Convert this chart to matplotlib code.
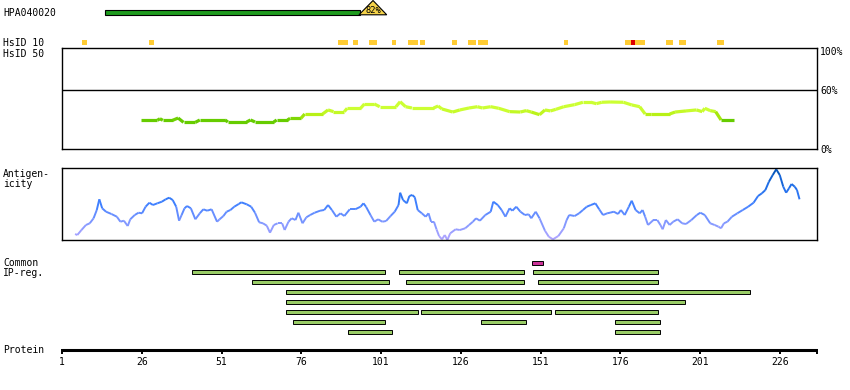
import matplotlib
matplotlib.use("Agg")
import matplotlib.pyplot as plt
from matplotlib.collections import LineCollection
from matplotlib.colors import LinearSegmentedColormap, Normalize
import numpy as np

W, H = 850, 390
PX0, PX_PER_RES = 62, 3.19   # residue 1 sits at x=62 px

# ---- data (residue positions) ----
antibody = "HPA040020"
hpa_start, hpa_end = 14.5, 94.4
hpa_identity = "82%"

hsid10_start = [7.3, 28.3, 87.5, 92.2, 97.2, 104.4, 109.5, 113.2, 123.3, 128.3,
                131.4, 158.4, 177.5, 180.6, 190.3, 194.4, 206.3]
hsid10_end = [8.8, 29.8, 90.7, 93.8, 99.7, 105.7, 112.6, 114.8, 124.8, 130.8,
              134.5, 159.6, 179.4, 183.8, 192.5, 196.6, 208.5]
hsid10_red_start = [179.4]
hsid10_red_end = [180.6]

id_pos = [25.8, 30.9, 31.7, 32.6, 35.7, 37.4, 39.1, 42.8, 44.2, 52.1, 53.0, 58.9,
          60.1, 61.5, 67.4, 68.3, 71.7, 72.5, 75.9, 77.1, 82.7, 84.4, 86.1, 89.5,
          90.4, 94.6, 95.8, 98.9, 100.6, 105.7, 107.0, 108.7, 110.7, 117.5, 118.9,
          120.1, 123.5, 125.7, 128.6, 131.2, 132.8, 135.4, 137.9, 141.3, 144.7,
          146.5, 148.1, 150.7, 152.4, 154.1, 155.8, 158.3, 161.7, 164.3, 166.8,
          168.5, 170.2, 172.8, 177.0, 179.6, 182.1, 183.8, 185.5, 191.5, 193.2,
          196.6, 199.9, 201.7, 202.5, 204.2, 205.9, 207.6, 211.8]
id_pct = [29.2, 29.2, 30.8, 29.2, 29.2, 31.5, 27.1, 27.1, 29.5, 29.5, 27.5, 27.5,
          29.5, 27.5, 27.5, 29.5, 29.5, 31.2, 31.2, 35.6, 35.6, 39.7, 38.0, 38.0,
          41.4, 41.4, 45.8, 45.8, 43.0, 43.0, 48.1, 43.0, 41.7, 41.7, 43.7,
          40.7, 37.6, 39.7, 41.7, 43.0, 41.7, 43.0, 41.4, 38.0, 37.6,
          39.0, 37.6, 34.9, 39.7, 38.7, 40.3, 43.0, 45.1, 47.5, 47.5,
          46.1, 47.5, 47.8, 47.5, 44.8, 43.0, 35.6, 35.6, 35.6, 37.6,
          38.7, 39.7, 38.0, 41.4, 39.0, 38.0, 29.5, 29.5]

ag_pos = [5.1, 5.8, 7.1, 8.5, 9.7, 10.9, 11.9, 12.7, 13.6, 14.8, 16.5, 18.2, 19.3,
          20.4, 21.6, 22.4, 23.8, 25.0, 26.1, 27.2, 28.4, 29.5, 30.9, 32.3, 33.5,
          34.6, 35.7, 36.8, 37.7, 38.5, 39.4, 40.2, 41.4, 42.8, 44.2, 45.3, 46.5,
          47.9, 49.6, 50.4, 51.6, 52.6, 53.8, 55.0, 56.4, 57.2, 58.9, 60.3, 61.5,
          62.8, 64.0, 65.2, 66.2, 67.4, 68.6, 70.0, 70.8, 72.0, 73.0, 74.2, 75.1,
          76.4, 77.6, 78.8, 80.2, 81.9, 83.2, 84.4, 85.6, 87.0, 88.3, 89.5, 91.2,
          92.9, 94.6, 95.5, 96.3, 97.7, 98.9, 100.1, 101.4, 102.6, 104.0, 105.3,
          106.5, 107.0, 107.9, 109.1, 109.9, 110.8, 111.6, 112.5, 113.8, 115.0,
          115.9, 116.7, 117.6, 118.4, 119.2, 120.1, 121.0, 121.8, 122.7, 124.4,
          125.7, 127.4, 128.6, 129.8, 130.8, 132.0, 133.7, 135.4, 136.2, 137.6,
          138.8, 140.0, 141.3, 142.2, 143.4, 144.7, 146.1, 147.3, 148.1, 149.5,
          150.7, 152.4, 153.6, 154.9, 156.6, 158.3, 159.2, 160.0, 161.7, 163.1,
          164.3, 165.5, 166.8, 168.2, 169.4, 170.6, 171.9, 172.8, 174.0, 175.3,
          176.2, 177.4, 178.7, 179.6, 180.8, 182.1, 183.0, 183.8, 184.7, 186.4,
          187.6, 188.6, 189.3, 190.3, 191.5, 192.6, 194.0, 195.4, 196.6, 198.3,
          200.0, 201.1, 202.5, 204.2, 205.6, 206.8, 207.6, 208.5, 209.6, 211.0,
          212.7, 214.4, 216.1, 217.8, 219.2, 220.4, 221.5, 222.6, 223.8, 224.9,
          226.0, 227.1, 228.0, 228.9, 229.7, 230.7, 231.4, 232.2]
ag_val = [6.0, 5.0, 10.0, 15.0, 16.7, 21.7, 30.0, 40.7, 31.7, 28.3, 26.0, 23.3, 18.3,
          19.3, 14.0, 20.7, 25.0, 27.3, 26.7, 33.3, 37.3, 35.0, 36.7, 38.3, 40.7,
          42.3, 40.0, 33.3, 19.3, 25.0, 31.7, 34.0, 31.7, 20.7, 26.7, 30.7, 29.3,
          30.7, 18.3, 20.7, 24.0, 28.3, 30.0, 33.3, 36.0, 37.7, 35.7, 33.3, 27.3,
          17.7, 16.7, 14.3, 7.3, 15.0, 16.7, 16.7, 10.0, 18.3, 21.7, 20.0, 27.3,
          16.7, 22.7, 25.0, 27.3, 29.3, 30.0, 35.0, 30.0, 23.3, 26.7, 24.0, 30.7,
          30.7, 33.3, 36.7, 33.3, 25.0, 18.3, 20.7, 18.3, 19.0, 24.0, 28.3,
          35.0, 47.3, 40.0, 36.7, 44.0, 45.0, 42.7, 30.0, 26.7, 23.3,
          26.7, 18.3, 18.3, 10.7, 4.0, 0.7, 5.0, 0.0, 6.7, 10.7,
          10.0, 11.7, 15.0, 18.3, 21.7, 19.3, 25.0, 28.3, 38.3, 35.0,
          30.0, 23.3, 31.7, 29.3, 33.3, 28.3, 25.0, 25.7, 21.7, 28.3,
          21.7, 9.3, 3.3, 0.7, 4.0, 11.7, 20.0, 25.0, 24.0, 26.7,
          30.0, 33.3, 35.0, 36.7, 30.7, 25.0, 26.7, 27.3, 28.3, 26.0,
          30.0, 25.0, 33.3, 39.3, 30.0, 26.7, 30.0, 23.3, 15.0, 20.0,
          20.0, 15.0, 10.7, 20.0, 15.0, 18.3, 20.7, 16.7, 16.0, 20.0,
          25.0, 27.3, 25.0, 16.7, 15.0, 13.3, 11.7, 16.7, 18.3, 23.3,
          26.7, 30.0, 33.3, 37.3, 44.0, 46.7, 50.0, 58.3, 65.0, 70.7,
          65.0, 53.3, 47.3, 51.7, 56.0, 53.3, 50.0, 40.7]

common_start, common_end = [148.3], [151.7]
ipreg_rows = [
    [(41.6, 102.4), (106.5, 145.8), (148.5, 187.7)],
    [(60.5, 103.6), (108.7, 145.8), (150.3, 187.7)],
    [(71.3, 216.6)],
    [(71.3, 196.4)],
    [(71.3, 112.5), (113.5, 154.4), (155.4, 187.7)],
    [(73.4, 102.4), (132.5, 146.6), (174.3, 188.6)],
    [(90.5, 104.6), (174.3, 188.6)],
]
tick_res = [1, 26, 51, 76, 101, 126, 151, 176, 201, 226]


def res_at(px):
    return 1 + (px - PX0) / PX_PER_RES


def box(x0, y0, x1, y1):
    return [x0 / W, 1 - y1 / H, (x1 - x0) / W, (y1 - y0) / H]


RES_END = res_at(817)
plt.rcParams['font.family'] = ['DejaVu Sans Mono']
FS = 7

fig = plt.figure(figsize=(W / 100, H / 100), dpi=100)
fig.patch.set_facecolor('white')

# overlay axes: x in residues, y in pixels
ax = fig.add_axes([0, 0, 1, 1])
ax.set_xlim(res_at(0), res_at(W))
ax.set_ylim(H, 0)
ax.axis('off')

# antibody bar + identity triangle
ax.barh(12.5, hpa_end - hpa_start, left=hpa_start, height=4.5,
        color='#1e9b1e', edgecolor='black', linewidth=0.8)
tri_c = hpa_end + 4.1
ax.fill([tri_c - 4.4, tri_c, tri_c + 4.3], [14.8, 0.5, 14.8],
        facecolor='#f5d34a', edgecolor='black', linewidth=0.8)
ax.text(tri_c, 13.3, hpa_identity, ha='center', va='baseline', fontsize=6.3)

# HsID 10 marks
ax.barh(42.5, np.array(hsid10_end) - np.array(hsid10_start), left=hsid10_start,
        height=5, color='#ffcc33', linewidth=0)
ax.barh(42.5, np.array(hsid10_red_end) - np.array(hsid10_red_start),
        left=hsid10_red_start, height=5, color='#dd0000', linewidth=0)

# common region + IP-reg bars
ax.barh(262.5, np.array(common_end) - np.array(common_start), left=common_start,
        height=4, color='#cc3399', edgecolor='black', linewidth=0.7)
for i, row in enumerate(ipreg_rows):
    s = [a for a, b in row]
    w = [b - a for a, b in row]
    ax.barh(272.3 + 10 * i, w, left=s, height=4, color='#99cc66',
            edgecolor='black', linewidth=0.7)

# protein axis
ax.hlines(350.2, 1, RES_END, color='black', linewidth=2.2)
ax.vlines(tick_res[1:], 349, 354, color='black', linewidth=1.4)
ax.vlines([1, RES_END], 349, 354, color='black', linewidth=1.4)
for t in tick_res:
    ax.text(t, 365, str(t), ha='center', va='baseline', fontsize=FS)

# identity (HsID 50) panel
ax_id = fig.add_axes(box(62, 48, 817, 149))
ax_id.set_xlim(1, RES_END)
ax_id.set_ylim(0, 102.7)
ax_id.set_xticks([])
ax_id.set_yticks([])
for sp in ax_id.spines.values():
    sp.set_linewidth(1.0)
ax_id.axhline(60, color='black', linewidth=1.0)
pts = np.column_stack([id_pos, id_pct])
segs = np.stack([pts[:-1], pts[1:]], axis=1)
id_cmap = LinearSegmentedColormap.from_list('id', ['#66cc00', '#b4ee10', '#ccff33'])
lc = LineCollection(segs, cmap=id_cmap, norm=Normalize(29.5, 40), linewidth=2.3,
                    capstyle='butt')
lc.set_array(np.clip((np.array(id_pct[:-1]) + np.array(id_pct[1:])) / 2, 0, 40))
ax_id.add_collection(lc)

# antigenicity panel
ax_ag = fig.add_axes(box(62, 168, 817, 240))
ax_ag.set_xlim(1, RES_END)
ax_ag.set_ylim(0, 72)
ax_ag.set_xticks([])
ax_ag.set_yticks([])
for sp in ax_ag.spines.values():
    sp.set_linewidth(1.0)
pts = np.column_stack([ag_pos, ag_val])
segs = np.stack([pts[:-1], pts[1:]], axis=1)
ag_cmap = LinearSegmentedColormap.from_list('ag', ['#b3a6ff', '#7f97ff', '#3f80ff', '#1f6ee8', '#0050b0'])
lc2 = LineCollection(segs, cmap=ag_cmap, norm=Normalize(0, 72), linewidth=1.4)
lc2.set_array((np.array(ag_val[:-1]) + np.array(ag_val[1:])) / 2)
ax_ag.add_collection(lc2)

# labels
labels = [(antibody, 16), ("HsID 10", 45.7), ("HsID 50", 56.7),
          ("Antigen-", 176.7), ("icity", 186.7), ("Common", 265.7),
          ("IP-reg.", 275.8), ("Protein", 353.3)]
for txt, yb in labels:
    fig.text(3 / W, 1 - yb / H, txt, ha='left', va='baseline', fontsize=FS)
for txt, yb in [("100%", 55), ("60%", 94.3), ("0%", 153.3)]:
    fig.text(820 / W, 1 - yb / H, txt, ha='left', va='baseline', fontsize=FS)

fig.savefig('out.png', dpi=100)
